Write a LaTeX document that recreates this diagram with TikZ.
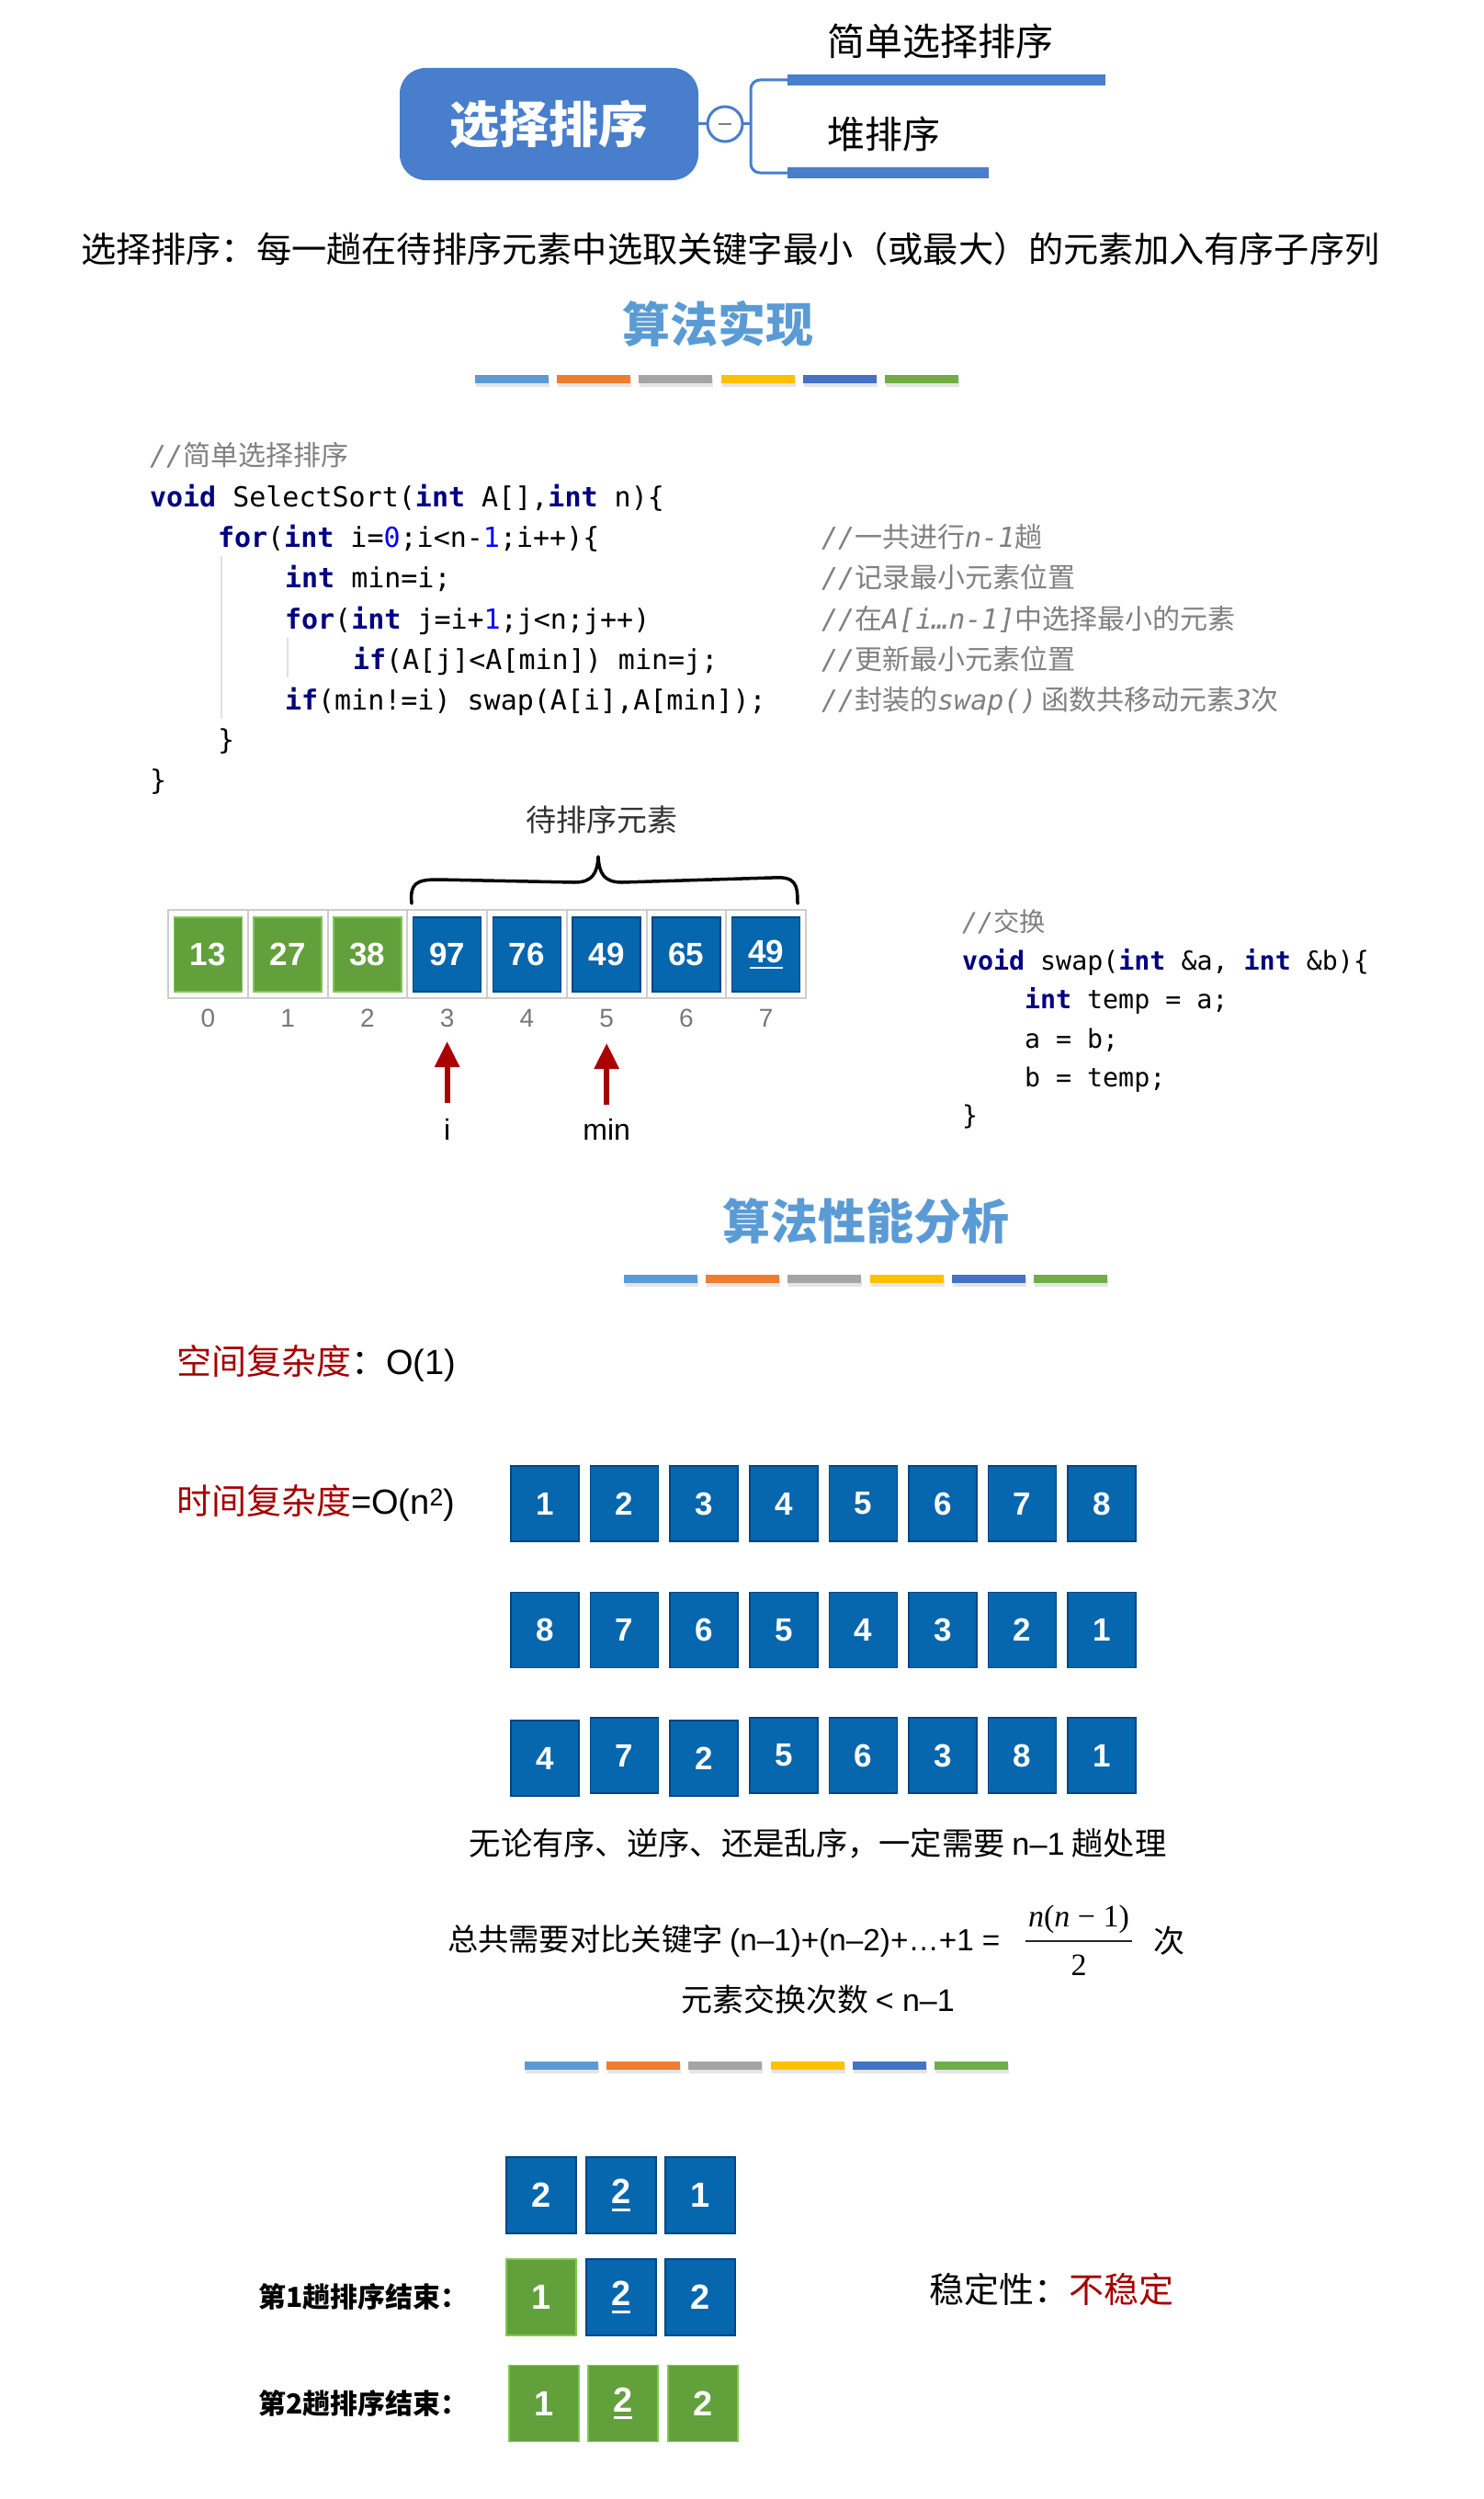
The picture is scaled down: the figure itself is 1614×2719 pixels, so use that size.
\documentclass[tikz,border=0pt]{standalone}
\usepackage{fontspec}
\setmainfont{Noto Sans CJK SC}
\newfontfamily\cjk{Noto Sans CJK SC}
\newfontfamily\lat{Liberation Sans}
\newfontfamily\tnr{Liberation Serif}
\newfontfamily\codefont{DejaVu Sans Mono}
\usetikzlibrary{arrows.meta}
\definecolor{mmblue}{RGB}{72,126,204}
\definecolor{headblue}{RGB}{91,155,213}
\definecolor{cellgreen}{RGB}{98,160,60}
\definecolor{cellgreenedge}{RGB}{130,200,80}
\definecolor{cellblue}{RGB}{6,102,174}
\definecolor{cellblueedge}{RGB}{0,70,130}
\definecolor{darkred}{RGB}{165,0,0}
\definecolor{arrowred}{RGB}{170,0,0}
\definecolor{kwblue}{RGB}{0,0,128}
\definecolor{numblue}{RGB}{0,0,255}
\definecolor{cmtgray}{RGB}{128,128,128}
\definecolor{idxgray}{RGB}{120,120,120}
\definecolor{framegray}{RGB}{205,205,205}
\definecolor{s1}{RGB}{91,155,213}
\definecolor{s2}{RGB}{237,125,49}
\definecolor{s3}{RGB}{165,165,165}
\definecolor{s4}{RGB}{255,192,0}
\definecolor{s5}{RGB}{68,114,196}
\definecolor{s6}{RGB}{112,173,71}
\newcommand\fs[1]{\fontsize{#1}{#1}\selectfont}
\newcommand\kw[1]{{\bfseries\color{kwblue}#1}}
\newcommand\nb[1]{{\color{numblue}#1}}
\newcommand\ulnum[1]{\setbox0\hbox{#1}\rlap{\kern0.04\wd0\rule[-0.2em]{0.92\wd0}{0.07em}}\box0}
\newcommand\colorstrip[2]{%
  \foreach \c [count=\k from 0] in {s1,s2,s3,s4,s5,s6} {
    \fill[black!10] ({#1+\k*89.2+1},{#2+3}) rectangle ++(80,10);
    \fill[\c] ({#1+\k*89.2},{#2}) rectangle ++(80,9);
  }}
\begin{document}
\begin{tikzpicture}[x=1pt,y=-1pt,
  every node/.style={inner sep=0pt,outer sep=0pt},
  cbox/.style={minimum width=74pt,minimum height=82pt,text=white,font=\lat\bfseries\fs{35},line width=1.5pt},
  blueb/.style={cbox,fill=cellblue,draw=cellblueedge},
  greenb/.style={cbox,fill=cellgreen,draw=cellgreenedge},
  sbox/.style={minimum width=76pt,minimum height=83pt,text=white,font=\lat\bfseries\fs{38},line width=1.5pt},
  sblue/.style={sbox,fill=cellblue,draw=cellblueedge},
  sgreen/.style={sbox,fill=cellgreen,draw=cellgreenedge},
  frame/.style={draw=framegray,line width=2pt,fill=white,minimum width=86.75pt,minimum height=96pt},
  code/.style={anchor=base west,font=\codefont\fs{30}},
  scode/.style={anchor=base west,font=\codefont\fs{28.3}},
  cmt/.style={anchor=base west,font=\codefont\itshape\fs{30},text=cmtgray},
  redarr/.style={draw=arrowred,line width=6pt,-{Triangle[width=26pt,length=28pt]}},
  mmline/.style={draw=mmblue,line width=3pt}
]
\useasboundingbox (0,0) rectangle (1614,2719);
\fill[white] (0,0) rectangle (1614,2719);

% ---------- mind map ----------
\node[fill=mmblue,rounded corners=28pt,minimum width=325pt,minimum height=122pt,
      text=white,font=\bfseries\fs{54}] (root) at (597.5,135) {选择排序};
\node[circle,draw=mmblue,line width=3pt,fill=white,minimum size=38pt] (tog) at (789,135) {};
\draw[gray,line width=2.5pt] ([xshift=-7pt]tog.center) -- ([xshift=7pt]tog.center);
\draw[mmline] (root.east) -- (tog.west);
\node[fill=mmblue,minimum width=346pt,minimum height=12pt,anchor=west] (bar1) at (857,87) {};
\node[fill=mmblue,minimum width=219pt,minimum height=12pt,anchor=west] (bar2) at (857,188) {};
\coordinate (brk) at (817,135);
\draw[mmline,rounded corners=10pt] (bar1.west) -| (brk) |- (bar2.west);
\draw[mmline] (tog.east) -- (brk);
\node[anchor=west,font=\fs{41}] (l1) at (900,45) {简单选择排序};
\node[anchor=west,font=\fs{41}] (l2) at (900,146) {堆排序};

\node[anchor=west,font=\fs{38.2}] (def) at (88,271) {选择排序：每一趟在待排序元素中选取关键字最小（或最大）的元素加入有序子序列};

\node[font=\bfseries\fs{52},text=headblue] (h1) at (781,352) {算法实现};
\colorstrip{517}{408}

% ---------- code ----------
\draw[black!12,line width=1.5pt] (241,605) -- (241,782);
\draw[black!12,line width=1.5pt] (313,694) -- (313,737);
\node[cmt] (c0) at (163,506) {//{\cjk 简单选择排序}};
\node[code] (c1) at (163,551) {\kw{void} SelectSort(\kw{int} A[],\kw{int} n)\{};
\node[code] (c2) at (237,595) {\kw{for}(\kw{int} i=\nb{0};i<n-\nb{1};i++)\{};
\node[code] (c3) at (310,639) {\kw{int} min=i;};
\node[code] (c4) at (310,684) {\kw{for}(\kw{int} j=i+\nb{1};j<n;j++)};
\node[code] (c5) at (384,728) {\kw{if}(A[j]<A[min]) min=j;};
\node[code] (c6) at (310,772) {\kw{if}(min!=i) swap(A[i],A[min]);};
\node[code] (c7) at (237,815) {\}};
\node[code] (c8) at (163,859) {\}};
\node[cmt] (m2) at (894,595) {//{\cjk 一共进行}n-1{\cjk 趟}};
\node[cmt] (m3) at (894,639) {//{\cjk 记录最小元素位置}};
\node[cmt] (m4) at (894,684) {//{\cjk 在}A[i…n-1]{\cjk 中选择最小的元素}};
\node[cmt] (m5) at (894,728) {//{\cjk 更新最小元素位置}};
\node[cmt] (m6) at (894,772) {//{\cjk 封装的}swap()\,{\cjk 函数共移动元素}3{\cjk 次}};

% ---------- array ----------
\node[font=\fs{33},text=black!80] (pend) at (655,892) {待排序元素};
\draw[line width=3.5pt,line cap=round,line join=round]
  (448,983) .. controls (446,962) and (452,957) .. (476,957) -- (625,960)
  .. controls (645,960) and (650,950) .. (651,932)
  .. controls (652,950) and (657,960) .. (677,960) -- (840,955)
  .. controls (866,953) and (868,962) .. (868,983);
\foreach \k in {0,...,7} {
  \node[frame] (f\k) at ({226.4+86.75*\k},1038) {};
  \node[font=\lat\fs{28},text=idxgray] (ix\k) at ({226.4+86.75*\k},1108) {\k};
}
\foreach \v/\s [count=\k from 0] in {13/greenb,27/greenb,38/greenb,97/blueb,76/blueb,49/blueb,65/blueb} {
  \node[\s,minimum height=81pt] (a\k) at ({226.4+86.75*\k},1038.5) {\v};
}
\node[blueb,minimum height=81pt] (a7) at ({226.4+86.75*7},1038.5) {\ulnum{49}};
\coordinate (iT) at (486.6,1200);
\coordinate (iH) at (486.6,1133);
\coordinate (mT) at (660.2,1202);
\coordinate (mH) at (660.2,1135);
\draw[redarr] (iT) -- (iH);
\draw[redarr] (mT) -- (mH);
\node[anchor=base,font=\lat\fs{32}] (ilab) at (486.6,1240) {i};
\node[anchor=base,font=\lat\fs{32}] (minlab) at (660.2,1240) {min};

% ---------- swap code ----------
\node[scode,font=\codefont\itshape\fs{28.3},text=cmtgray] (s0) at (1047,1013) {//{\cjk 交换}};
\node[scode] (s1) at (1047,1055) {\kw{void} swap(\kw{int} \&a, \kw{int} \&b)\{};
\node[scode] (s2) at (1115,1097) {\kw{int} temp = a;};
\node[scode] (s3) at (1115,1140) {a = b;};
\node[scode] (s4) at (1115,1182) {b = temp;};
\node[scode] (s5) at (1047,1223) {\}};

% ---------- analysis ----------
\node[font=\bfseries\fs{52},text=headblue] (h2) at (942,1329) {算法性能分析};
\colorstrip{679}{1387}
\node[anchor=west,font=\fs{38}] (space) at (192,1483) {\textcolor{darkred}{空间复杂度}：{\lat O(1)}};
\node[anchor=west,font=\fs{38}] (time) at (192,1635) {\textcolor{darkred}{时间复杂度}{\lat =O(n\textsuperscript{2})}};
\foreach \v [count=\k from 0] in {1,2,3,4,5,6,7,8} {
  \node[blueb] (r1\k) at ({593+86.6*\k},1636) {\v};
}
\foreach \v [count=\k from 0] in {8,7,6,5,4,3,2,1} {
  \node[blueb] (r2\k) at ({593+86.6*\k},1773.5) {\v};
}
\foreach \v/\d [count=\k from 0] in {4/3,7/0,2/3,5/0,6/0,3/0,8/0,1/0} {
  \node[blueb] (r3\k) at ({593+86.6*\k},{1910+\d}) {\v};
}
\node[font=\fs{34.3}] (note1) at (890,2006) {无论有序、逆序、还是乱序，一定需要 {\lat n–1} 趟处理};
\node[anchor=west,font=\fs{33.3}] (cmp) at (487,2112) {总共需要对比关键字 {\lat (n–1)+(n–2)+…+1 =}};
\node[font=\tnr\fs{34}] (fnum) at (1174,2088) {\textit{n}(\textit{n} − 1)};
\node[fill=black!85,minimum width=116pt,minimum height=1.6pt] (fbar) at (1174,2112) {};
\node[font=\tnr\fs{34}] (fden) at (1174,2138) {2};
\node[font=\fs{34}] (ci) at (1272,2112) {次};
\node[font=\fs{34}] (note2) at (890,2175) {元素交换次数 {\lat < n–1}};
\colorstrip{571}{2243}

% ---------- stability ----------
\node[sblue] (p0) at (589,2388.5) {2};
\node[sblue] (p1) at (676,2388.5) {\ulnum{2}};
\node[sblue] (p2) at (762,2388.5) {1};
\node[sgreen] (q0) at (589,2499.5) {1};
\node[sblue] (q1) at (676,2499.5) {\ulnum{2}};
\node[sblue] (q2) at (762,2499.5) {2};
\node[sgreen] (t0) at (592,2615) {1};
\node[sgreen] (t1) at (678,2615) {\ulnum{2}};
\node[sgreen] (t2) at (765,2615) {2};
\node[anchor=west,font=\bfseries\fs{30}] (lab1) at (281,2499) {第1趟排序结束：};
\node[anchor=west,font=\bfseries\fs{30}] (lab2) at (281,2615) {第2趟排序结束：};
\node[anchor=west,font=\fs{38}] (stab) at (1011,2491) {稳定性：\textcolor{darkred}{不稳定}};
\end{tikzpicture}
\end{document}
